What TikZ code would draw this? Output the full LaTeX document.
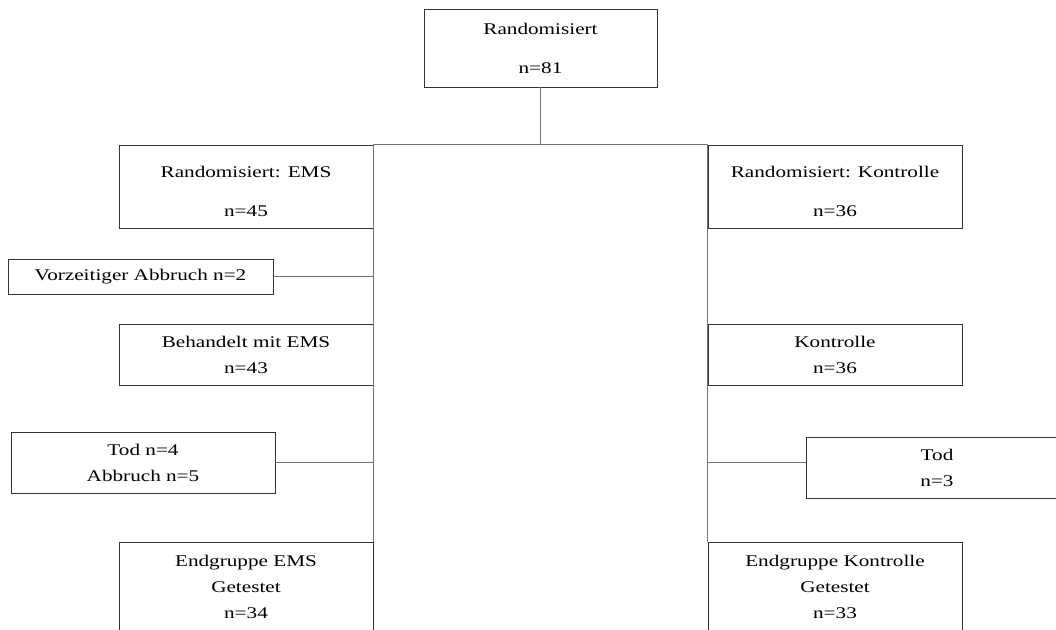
\documentclass[tikz,border=0pt]{standalone}
\usepackage{fontspec}
\setmainfont[FakeStretch=1.3]{Liberation Serif}
\begin{document}
\begin{tikzpicture}[x=1pt,y=-1pt,
  box/.style={draw=black!80, line width=0.8pt, fill=white, inner sep=0pt, align=center,
    font=\fontsize{16.3}{26}\selectfont},
  conn/.style={draw=black!55, line width=1.2pt}]
\clip (0,0) rectangle (1056,629);
\fill[white] (0,0) rectangle (1056,629);
\coordinate (j) at (540.5,145);
\node[box, minimum width=233pt, minimum height=78pt] (top) at (540.5,48) {Randomisiert\\[13pt]n=81};
\node[box, minimum width=254pt, minimum height=83pt] (ems) at (246,186.5) {\rule{0pt}{22pt}Randomisiert: EMS\\[13pt]n=45};
\node[box, minimum width=254pt, minimum height=83pt] (kon) at (835,186.5) {\rule{0pt}{22pt}Randomisiert: Kontrolle\\[13pt]n=36};
\node[box, minimum width=265pt, minimum height=35pt] (vor) at (140.5,276.5) {Vorzeitiger Abbruch n=2};
\node[box, minimum width=254pt, minimum height=61pt] (beh) at (246,354.5) {Behandelt mit EMS\\n=43};
\node[box, minimum width=254pt, minimum height=61pt] (kon2) at (835,354.5) {Kontrolle\\n=36};
\node[box, minimum width=264pt, minimum height=61pt] (tod1) at (143,462.5) {Tod n=4\\Abbruch n=5};
\node[box, minimum width=262pt, minimum height=61pt] (tod2) at (937,467.5) {Tod\\n=3};
\node[box, minimum width=254pt, minimum height=89pt] (end1) at (246,586.5) {Endgruppe EMS\\Getestet\\n=34};
\node[box, minimum width=254pt, minimum height=89pt] (end2) at (835,586.5) {Endgruppe Kontrolle\\Getestet\\n=33};
\draw[conn] (top.south) -- (j);
\draw[conn] (ems.north east) -- (kon.north west);
\draw[conn] (ems.north east) -- (end1.north east);
\draw[conn] (kon.north west) -- (end2.north west);
\draw[conn] (vor.east) -- (vor.east -| ems.east);
\draw[conn] (tod1.east) -- (tod1.east -| ems.east);
\draw[conn] (tod2.west |- tod1.east) -- (tod1.east -| kon.west);
\end{tikzpicture}
\end{document}
